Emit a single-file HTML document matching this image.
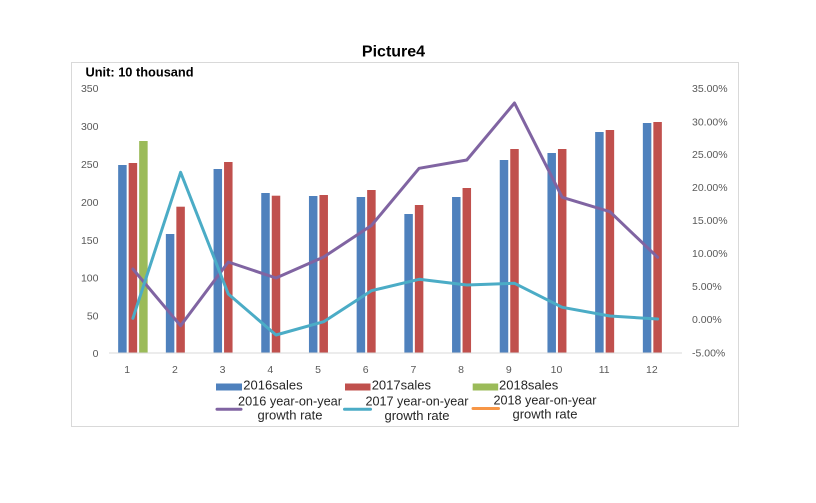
<!DOCTYPE html>
<html>
<head>
<meta charset="utf-8">
<style>
html,body{margin:0;padding:0;background:#fff;}
svg{display:block;}
text{font-family:"Liberation Sans",Arial,sans-serif;}
</style>
</head>
<body>
<svg width="816" height="503" viewBox="0 0 816 503" xmlns="http://www.w3.org/2000/svg">
<rect x="0" y="0" width="816" height="503" fill="#fff"/>
<!-- frame -->
<rect x="71.5" y="62.5" width="667" height="364" fill="none" stroke="#d9d9d9" stroke-width="1"/>
<!-- title -->
<text x="393.5" y="56.5" font-size="16" font-weight="bold" fill="#000" text-anchor="middle">Picture4</text>
<text x="85.5" y="76.7" font-size="12.8" font-weight="bold" fill="#000">Unit: 10 thousand</text>

<!-- left axis labels -->
<g font-size="10.5" fill="#595959" text-anchor="end">
<text x="98.5" y="92">350</text>
<text x="98.5" y="130">300</text>
<text x="98.5" y="168">250</text>
<text x="98.5" y="206">200</text>
<text x="98.5" y="244">150</text>
<text x="98.5" y="281.5">100</text>
<text x="98.5" y="319.5">50</text>
<text x="98.5" y="357">0</text>
</g>
<!-- right axis labels -->
<g font-size="10.5" fill="#595959">
<text x="692" y="92">35.00%</text>
<text x="692" y="125.3">30.00%</text>
<text x="692" y="158">25.00%</text>
<text x="692" y="191">20.00%</text>
<text x="692" y="224">15.00%</text>
<text x="692" y="257">10.00%</text>
<text x="692" y="290">5.00%</text>
<text x="692" y="323">0.00%</text>
<text x="692" y="356.5">-5.00%</text>
</g>

<!-- bars -->
<g>
<!-- blue 2016 -->
<g fill="#4f81bd">
<rect x="118.15" y="165" width="8.5" height="188"/>
<rect x="165.85" y="234" width="8.5" height="119"/>
<rect x="213.55" y="169" width="8.5" height="184"/>
<rect x="261.25" y="193" width="8.5" height="160"/>
<rect x="308.95" y="196" width="8.5" height="157"/>
<rect x="356.65" y="197" width="8.5" height="156"/>
<rect x="404.35" y="214" width="8.5" height="139"/>
<rect x="452.05" y="197" width="8.5" height="156"/>
<rect x="499.75" y="160" width="8.5" height="193"/>
<rect x="547.45" y="153" width="8.5" height="200"/>
<rect x="595.15" y="132" width="8.5" height="221"/>
<rect x="642.85" y="123" width="8.5" height="230"/>
</g>
<!-- red 2017 -->
<g fill="#c0504d">
<rect x="128.65" y="163" width="8.5" height="190"/>
<rect x="176.35" y="206.7" width="8.5" height="146.3"/>
<rect x="224.05" y="162" width="8.5" height="191"/>
<rect x="271.75" y="195.7" width="8.5" height="157.3"/>
<rect x="319.45" y="195" width="8.5" height="158"/>
<rect x="367.15" y="190" width="8.5" height="163"/>
<rect x="414.85" y="205" width="8.5" height="148"/>
<rect x="462.55" y="188" width="8.5" height="165"/>
<rect x="510.25" y="149" width="8.5" height="204"/>
<rect x="557.95" y="149" width="8.5" height="204"/>
<rect x="605.65" y="130" width="8.5" height="223"/>
<rect x="653.35" y="122" width="8.5" height="231"/>
</g>
<!-- green 2018 -->
<rect x="139.15" y="141" width="8.5" height="212" fill="#9bbb59"/>
</g>

<!-- x axis line -->
<line x1="109" y1="353" x2="682" y2="353" stroke="#d9d9d9" stroke-width="1"/>

<!-- x labels -->
<g font-size="10.5" fill="#595959" text-anchor="middle">
<text x="127.2" y="373">1</text>
<text x="174.9" y="373">2</text>
<text x="222.6" y="373">3</text>
<text x="270.3" y="373">4</text>
<text x="318" y="373">5</text>
<text x="365.7" y="373">6</text>
<text x="413.4" y="373">7</text>
<text x="461.1" y="373">8</text>
<text x="508.8" y="373">9</text>
<text x="556.5" y="373">10</text>
<text x="604.2" y="373">11</text>
<text x="651.9" y="373">12</text>
</g>

<!-- lines -->
<polyline fill="none" stroke="#8064a2" stroke-width="3" stroke-linejoin="round" stroke-linecap="round"
points="132.9,269 180.6,325.7 228.3,262 276,278 323.7,257 371.4,225.5 419.1,168.3 466.8,160 514.5,103 562.2,197.3 609.9,211.7 657.6,257.3"/>
<polyline fill="none" stroke="#4bacc6" stroke-width="3" stroke-linejoin="round" stroke-linecap="round"
points="132.9,318.3 180.6,172.3 228.3,294 276,335 323.7,321.7 371.4,290.7 419.1,279.3 466.8,285 514.5,283.3 562.2,307.3 609.9,316 657.6,319"/>

<!-- legend row 1 -->
<rect x="216" y="383.5" width="26" height="7" fill="#4f81bd"/>
<text x="243.3" y="389.3" font-size="13" fill="#262626">2016sales</text>
<rect x="345" y="383.5" width="25.5" height="7" fill="#c0504d"/>
<text x="371.7" y="389.3" font-size="13" fill="#262626">2017sales</text>
<rect x="472.7" y="383.5" width="25.5" height="7" fill="#9bbb59"/>
<text x="499" y="389.3" font-size="13" fill="#262626">2018sales</text>

<!-- legend row 2 -->
<line x1="217" y1="409.3" x2="241" y2="409.3" stroke="#8064a2" stroke-width="3" stroke-linecap="round"/>
<text x="290" y="405.7" font-size="13" fill="#262626" text-anchor="middle" textLength="104" lengthAdjust="spacingAndGlyphs">2016 year-on-year</text>
<text x="290" y="419.5" font-size="13" fill="#262626" text-anchor="middle">growth rate</text>

<line x1="344.5" y1="409.3" x2="370.5" y2="409.3" stroke="#4bacc6" stroke-width="3" stroke-linecap="round"/>
<text x="417" y="405.7" font-size="13" fill="#262626" text-anchor="middle" textLength="103" lengthAdjust="spacingAndGlyphs">2017 year-on-year</text>
<text x="417" y="420" font-size="13" fill="#262626" text-anchor="middle">growth rate</text>

<line x1="473" y1="408.5" x2="498.5" y2="408.5" stroke="#f79646" stroke-width="3" stroke-linecap="round"/>
<text x="545" y="404.3" font-size="13" fill="#262626" text-anchor="middle" textLength="103" lengthAdjust="spacingAndGlyphs">2018 year-on-year</text>
<text x="545" y="418.3" font-size="13" fill="#262626" text-anchor="middle">growth rate</text>
</svg>
</body>
</html>
